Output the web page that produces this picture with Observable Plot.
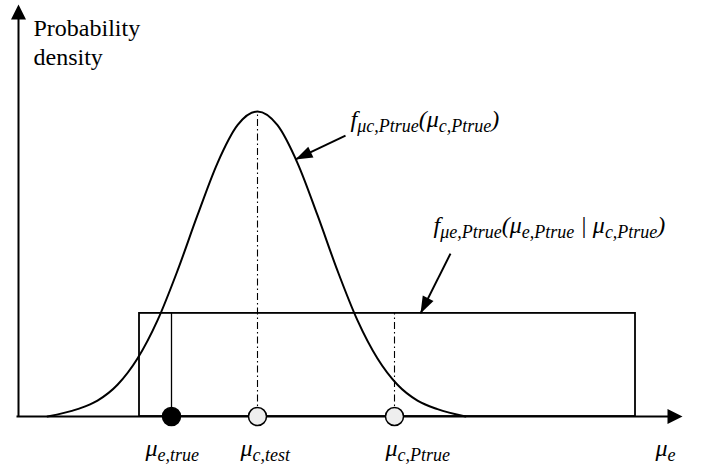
<!DOCTYPE html>
<html><head><meta charset="utf-8">
<script src="https://cdn.jsdelivr.net/npm/d3@7"></script>
<script src="https://cdn.jsdelivr.net/npm/@observablehq/plot@0.6"></script>
<style>body{margin:0;background:#fff}</style>
</head><body><div id="chart"></div>
<script>
// ---- data (x in μe units, y in density units) ----
const curveX = [0.29, 0.59, 0.79, 0.99, 1.19, 1.39, 1.59, 1.79, 1.99, 2.19, 2.39, 2.59, 2.79, 2.99, 3.19, 3.39, 3.59, 3.79, 3.99, 4.19, 4.47];
const curveY = [0, 0.024, 0.052, 0.104, 0.190, 0.315, 0.478, 0.660, 0.831, 0.955, 1.0, 0.955, 0.831, 0.660, 0.478, 0.315, 0.190, 0.104, 0.052, 0.024, 0];
const uniformRange = [1.21, 6.17];
const uniformHeight = 0.338;
const pointNames = ["μe,true", "μc,test", "μc,Ptrue"];
const pointX = [1.53, 2.39, 3.76];
const pointFilled = [true, false, false];
const pointLineTop = [uniformHeight, 1.0, uniformHeight];
const pointLineDashed = [false, true, true];
const xAxisRange = [-0.02, 6.64];
const yAxisTop = 1.351;
const arrowFrom = [[3.27, 0.921], [4.32, 0.534]];
const arrowTo = [[2.77, 0.843], [4.02, 0.338]];
const labelParts = [
  [["f",0],["μc,Ptrue",1],["(μ",0],["c,Ptrue",1],[")",0]],
  [["f",0],["μe,Ptrue",1],["(μ",0],["e,Ptrue",1],[" | μ",0],["c,Ptrue",1],[")",0]],
  [["μ",0],["e,true",1]],
  [["μ",0],["c,test",1]],
  [["μ",0],["c,Ptrue",1]],
  [["μ",0],["e",1]]
];
// baseline positions
const labelX = [3.32, 4.15, 1.27, 2.22, 3.67, 6.37];
const labelY = [0.948, 0.603, -0.128, -0.128, -0.128, -0.128];
const titleLines = ["Probability", "density"];
const titleX = [0.15, 0.15];
const titleY = [1.249, 1.151];

// ---- scales ----
const xDomain = [-0.18, 6.91], xRange = [0, 709];
const yDomain = [0, 1], yRange = [416, 111];
const sx = d3.scaleLinear(xDomain, xRange), sy = d3.scaleLinear(yDomain, yRange);
const FONT = "Liberation Serif";
const FS = 24;
const midShift = 0.32 * FS / (yRange[0] - yRange[1]); // default middle line anchor offset, in y units

const curve = curveX.map((x, i) => ({x, y: curveY[i]}));
const points = pointNames.map((name, i) => ({name, x: pointX[i], filled: pointFilled[i], top: pointLineTop[i], dashed: pointLineDashed[i]}));
const arrows = arrowFrom.map((f, i) => {
  const t = arrowTo[i];
  const ang = Math.atan2(sx(t[0]) - sx(f[0]), -(sy(t[1]) - sy(f[1]))) * 180 / Math.PI;
  return {x1: f[0], y1: f[1], x2: t[0], y2: t[1], ang};
});
const axisHeads = [{x: xAxisRange[1], y: 0, ang: 90}, {x: 0, y: yAxisTop, ang: 0}];
const labels = labelParts.map((parts, i) => ({parts, text: parts.map(p => p[0]).join(""), x: labelX[i], y: labelY[i] + midShift}));
const titles = titleLines.map((t, i) => ({t, x: titleX[i], y: titleY[i] + midShift}));

function headSymbol(L, W) {
  return {draw(ctx) { ctx.moveTo(0, 0); ctx.lineTo(W / 2, L); ctx.lineTo(-W / 2, L); ctx.closePath(); }};
}
const bigHead = headSymbol(15, 15);
const smallHead = headSymbol(17, 12);

const chart = Plot.plot({
  width: 709, height: 470,
  margin: 0,
  x: {domain: xDomain, range: xRange, axis: null},
  y: {domain: yDomain, range: yRange, axis: null},
  marks: [
    Plot.rect([{x1: uniformRange[0], x2: uniformRange[1], y1: 0, y2: uniformHeight}], {x1: "x1", x2: "x2", y1: "y1", y2: "y2", fill: "none", stroke: "black", strokeWidth: 1.8}),
    Plot.ruleX(points.filter(d => !d.dashed), {x: "x", y1: 0, y2: "top", stroke: "black", strokeWidth: 1.3}),
    Plot.ruleX(points.filter(d => d.dashed), {x: "x", y1: 0, y2: "top", stroke: "black", strokeWidth: 1.1, strokeDasharray: "7,3,1.5,3"}),
    Plot.line(curve, {x: "x", y: "y", curve: "monotone-x", stroke: "black", strokeWidth: 2}),
    Plot.link([{x1: xAxisRange[0], y1: 0, x2: xAxisRange[1] - 0.1, y2: 0}, {x1: 0, y1: 0, x2: 0, y2: yAxisTop - 0.03}], {x1: "x1", y1: "y1", x2: "x2", y2: "y2", stroke: "black", strokeWidth: 2}),
    Plot.dot(axisHeads, {x: "x", y: "y", rotate: "ang", symbol: bigHead, r: 5, fill: "black", stroke: "none"}),
    Plot.link(arrows, {x1: "x1", y1: "y1", x2: "x2", y2: "y2", stroke: "black", strokeWidth: 2}),
    Plot.dot(arrows, {x: "x2", y: "y2", rotate: "ang", symbol: smallHead, r: 5, fill: "black", stroke: "none"}),
    Plot.dot(points, {x: "x", y: 0, r: 9, fill: d => d.filled ? "black" : "#eeeeee", stroke: "black", strokeWidth: 1.5}),
    ...titles.map(t => Plot.text([t], {x: "x", y: "y", text: d => d.t, textAnchor: "start", fontSize: FS, fontFamily: FONT})),
    ...labels.map(l => Plot.text([l], {x: "x", y: "y", text: d => d.text, textAnchor: "start", fontSize: FS, fontFamily: FONT, fontStyle: "italic"}))
  ]
});

const byText = new Map(labels.map(d => [d.text, d]));
chart.querySelectorAll("text").forEach(el => {
  const d = byText.get(el.textContent);
  if (!d) return;
  el.textContent = "";
  let cur = 0;
  for (const [t, sub] of d.parts) {
    const ts = document.createElementNS("http://www.w3.org/2000/svg", "tspan");
    ts.textContent = t;
    const target = sub ? 5 : 0;
    if (target !== cur) ts.setAttribute("dy", target - cur);
    cur = target;
    if (sub) ts.setAttribute("font-size", 18);
    el.appendChild(ts);
  }
});
document.getElementById("chart").appendChild(chart);
</script>
</body></html>
